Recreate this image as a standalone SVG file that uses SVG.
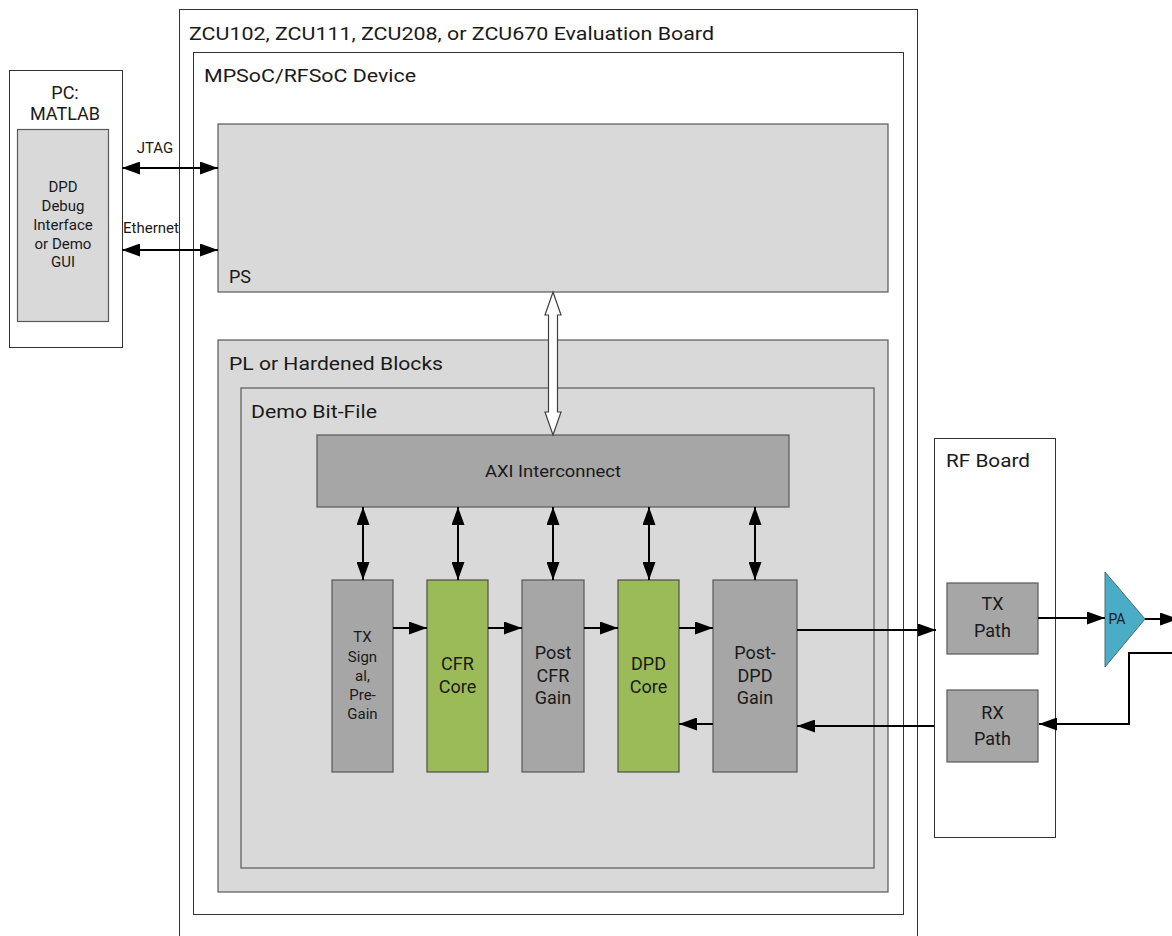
<svg xmlns="http://www.w3.org/2000/svg" width="1172" height="936" viewBox="0 0 1172 936">
  <style>
    .frame { fill: #ffffff; stroke: #333333; stroke-width: 1; }
    .light { fill: #d9d9d9; stroke: #595959; stroke-width: 1.2; }
    .mid { fill: #a6a6a6; stroke: #595959; stroke-width: 1.2; }
    .core { fill: #9bbb59; stroke: #4d4d4d; stroke-width: 1.2; }
    .amp { fill: #4bacc6; stroke: #4d6b73; stroke-width: 1; }
    .title { font-family: Roboto, "Liberation Sans", sans-serif; font-size: 18px; fill: #1a1a1a; }
    .lbl { font-family: Roboto, "Liberation Sans", sans-serif; font-size: 18px; fill: #1a1a1a; text-anchor: middle; }
    .sm { font-family: Roboto, "Liberation Sans", sans-serif; font-size: 15px; fill: #1a1a1a; text-anchor: middle; }
    .wire { fill: none; stroke: #000000; stroke-width: 2; }
  </style>
  <defs>
    <marker id="head" viewBox="0 0 18 13" refX="18" refY="6.5" markerWidth="18" markerHeight="13" markerUnits="userSpaceOnUse" orient="auto-start-reverse">
      <path d="M0,0 L18,6.5 L0,13 z" fill="#000000"/>
    </marker>
  </defs>

  <!-- Evaluation board frame -->
  <g id="board">
    <rect class="frame" x="179.5" y="9.5" width="738" height="940"/>
    <text class="title" x="189" y="40" textLength="525" lengthAdjust="spacingAndGlyphs">ZCU102, ZCU111, ZCU208, or ZCU670 Evaluation Board</text>
  </g>

  <!-- Device -->
  <g id="device">
    <rect class="frame" x="193.5" y="52.5" width="710" height="862"/>
    <text class="title" x="204" y="82" textLength="212" lengthAdjust="spacingAndGlyphs">MPSoC/RFSoC Device</text>
  </g>

  <!-- Processing system -->
  <g id="ps">
    <rect class="light" x="218" y="124" width="670" height="168"/>
    <text class="title" x="229" y="283">PS</text>
  </g>

  <!-- Programmable logic -->
  <g id="pl">
    <rect class="light" x="218" y="340" width="670" height="552"/>
    <text class="title" x="229" y="370" textLength="214" lengthAdjust="spacingAndGlyphs">PL or Hardened Blocks</text>
  </g>

  <g id="bitfile">
    <rect class="light" x="241" y="388" width="633" height="480"/>
    <text class="title" x="251" y="418" textLength="126" lengthAdjust="spacingAndGlyphs">Demo Bit-File</text>
  </g>

  <g id="axi">
    <rect class="mid" x="317" y="435" width="472" height="72"/>
    <text class="lbl" x="553" y="477" style="font-size:17px" textLength="136" lengthAdjust="spacingAndGlyphs">AXI Interconnect</text>
  </g>

  <!-- Datapath blocks -->
  <g id="tx-signal">
    <rect class="mid" x="332" y="580" width="61" height="192"/>
    <text class="sm" x="362.5" y="642">TX</text>
    <text class="sm" x="362.5" y="662">Sign</text>
    <text class="sm" x="362.5" y="681">al,</text>
    <text class="sm" x="362.5" y="700">Pre-</text>
    <text class="sm" x="362.5" y="719">Gain</text>
  </g>
  <g id="cfr-core">
    <rect class="core" x="427" y="580" width="61" height="192"/>
    <text class="lbl" x="457.5" y="670">CFR</text>
    <text class="lbl" x="457.5" y="693">Core</text>
  </g>
  <g id="post-cfr-gain">
    <rect class="mid" x="522" y="580" width="62" height="192"/>
    <text class="lbl" x="553" y="659">Post</text>
    <text class="lbl" x="553" y="682">CFR</text>
    <text class="lbl" x="553" y="704">Gain</text>
  </g>
  <g id="dpd-core">
    <rect class="core" x="618" y="580" width="61" height="192"/>
    <text class="lbl" x="648.5" y="670">DPD</text>
    <text class="lbl" x="648.5" y="693">Core</text>
  </g>
  <g id="post-dpd-gain">
    <rect class="mid" x="713" y="580" width="84" height="192"/>
    <text class="lbl" x="755" y="659">Post-</text>
    <text class="lbl" x="755" y="682">DPD</text>
    <text class="lbl" x="755" y="704">Gain</text>
  </g>

  <!-- Host PC -->
  <g id="pc">
    <rect class="frame" x="9.5" y="70.5" width="113" height="277"/>
    <text class="lbl" x="65" y="99">PC:</text>
    <text class="lbl" x="65" y="120">MATLAB</text>
    <rect class="light" x="17.5" y="129.5" width="91" height="192"/>
    <text class="sm" x="63" y="192">DPD</text>
    <text class="sm" x="63" y="211">Debug</text>
    <text class="sm" x="63" y="230">Interface</text>
    <text class="sm" x="63" y="249">or Demo</text>
    <text class="sm" x="63" y="267">GUI</text>
  </g>

  <!-- RF board -->
  <g id="rf-board">
    <rect class="frame" x="934.5" y="438.5" width="121" height="399"/>
    <text class="title" x="946" y="467" textLength="84" lengthAdjust="spacingAndGlyphs">RF Board</text>
  </g>
  <g id="tx-path">
    <rect class="mid" x="947" y="583" width="91" height="71"/>
    <text class="lbl" x="992.5" y="610">TX</text>
    <text class="lbl" x="992.5" y="637">Path</text>
  </g>
  <g id="rx-path">
    <rect class="mid" x="947" y="690" width="91" height="72"/>
    <text class="lbl" x="992.5" y="719">RX</text>
    <text class="lbl" x="992.5" y="745">Path</text>
  </g>
  <g id="pa">
    <polygon class="amp" points="1105,572 1145,619 1105,667"/>
    <text class="sm" x="1117" y="624" style="font-size:14px">PA</text>
  </g>

  <!-- Connectors -->
  <g id="connectors">
    <line class="wire" x1="122" y1="168" x2="218" y2="168" marker-start="url(#head)" marker-end="url(#head)"/>
    <line class="wire" x1="122" y1="250" x2="218" y2="250" marker-start="url(#head)" marker-end="url(#head)"/>
    <text class="sm" x="155" y="153">JTAG</text>
    <text class="sm" x="151" y="233">Ethernet</text>

    <!-- PS to AXI bus link -->
    <polygon points="553,292 561,315 557.5,315 557.5,412 561,412 553,435 545,412 548.5,412 548.5,315 545,315" fill="#ffffff" stroke="#404040" stroke-width="1.2"/>

    <line class="wire" x1="363" y1="507" x2="363" y2="580" marker-start="url(#head)" marker-end="url(#head)"/>
    <line class="wire" x1="458" y1="507" x2="458" y2="580" marker-start="url(#head)" marker-end="url(#head)"/>
    <line class="wire" x1="553" y1="507" x2="553" y2="580" marker-start="url(#head)" marker-end="url(#head)"/>
    <line class="wire" x1="649" y1="507" x2="649" y2="580" marker-start="url(#head)" marker-end="url(#head)"/>
    <line class="wire" x1="755" y1="507" x2="755" y2="580" marker-start="url(#head)" marker-end="url(#head)"/>

    <line class="wire" x1="393" y1="628" x2="427" y2="628" marker-end="url(#head)"/>
    <line class="wire" x1="488" y1="628" x2="522" y2="628" marker-end="url(#head)"/>
    <line class="wire" x1="584" y1="628" x2="618" y2="628" marker-end="url(#head)"/>
    <line class="wire" x1="679" y1="628" x2="713" y2="628" marker-end="url(#head)"/>
    <line class="wire" x1="713" y1="724" x2="679" y2="724" marker-end="url(#head)"/>

    <line class="wire" x1="797" y1="630" x2="936" y2="630" marker-end="url(#head)"/>
    <line class="wire" x1="934" y1="726" x2="797" y2="726" marker-end="url(#head)"/>

    <line class="wire" x1="1038" y1="618" x2="1105" y2="618" marker-end="url(#head)"/>
    <line class="wire" x1="1145" y1="619" x2="1178" y2="619" marker-end="url(#head)"/>
    <polyline class="wire" points="1174,653 1129,653 1129,724 1039,724" marker-end="url(#head)"/>
  </g>
</svg>
